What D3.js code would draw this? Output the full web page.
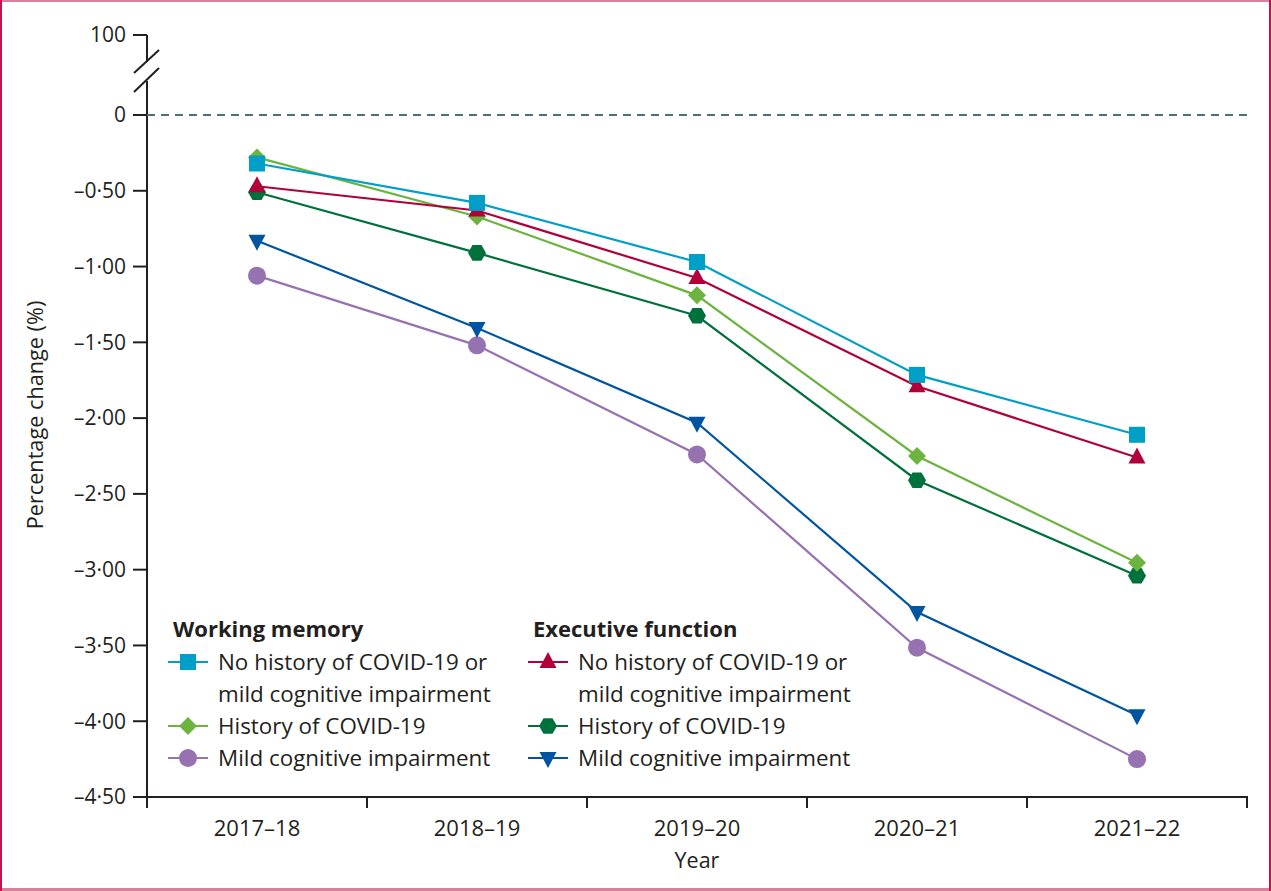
<!DOCTYPE html>
<html><head><meta charset="utf-8">
<script src="https://cdn.jsdelivr.net/npm/d3@7"></script>
<style>html,body{margin:0;padding:0;background:#fff}svg{display:block}</style>
</head><body>
<svg id="c" width="1271" height="891"></svg>
<script>
const years = ["2017–18","2018–19","2019–20","2020–21","2021–22"];
const yTicks = [0,-0.5,-1,-1.5,-2,-2.5,-3,-3.5,-4,-4.5];
const wmNoHistory = [-0.32,-0.58,-0.97,-1.715,-2.11];
const wmCovid = [-0.28,-0.67,-1.19,-2.25,-2.955];
const wmMCI = [-1.06,-1.52,-2.24,-3.515,-4.25];
const efNoHistory = [-0.47,-0.63,-1.075,-1.79,-2.26];
const efCovid = [-0.51,-0.91,-1.325,-2.41,-3.04];
const efMCI = [-0.83,-1.405,-2.03,-3.28,-3.96];

const series = [
  {name:"wmNo", values:wmNoHistory, color:"#009fc7", shape:"square"},
  {name:"wmCovid", values:wmCovid, color:"#6cb33f", shape:"diamond"},
  {name:"wmMCI", values:wmMCI, color:"#9672b1", shape:"circle"},
  {name:"efNo", values:efNoHistory, color:"#b2003b", shape:"triUp"},
  {name:"efCovid", values:efCovid, color:"#00703c", shape:"hex"},
  {name:"efMCI", values:efMCI, color:"#0055a2", shape:"triDown"}
];
const drawOrder = ["wmMCI","efMCI","efCovid","wmCovid","efNo","wmNo"];

const FONT = "'Open Sans', sans-serif";
const TXT = "#231f20";
const svg = d3.select("#c");
svg.append("rect").attr("x",0).attr("y",0).attr("width",1271).attr("height",891).attr("fill","#fff");
svg.append("line").attr("x1",0).attr("x2",1271).attr("y1",1).attr("y2",1).attr("stroke","#d9809a").attr("stroke-width",2);
svg.append("line").attr("x1",0).attr("x2",1271).attr("y1",889.5).attr("y2",889.5).attr("stroke","#d9809a").attr("stroke-width",3);
svg.append("line").attr("x1",1).attr("x2",1).attr("y1",0).attr("y2",891).attr("stroke","#c4124f").attr("stroke-width",2);
svg.append("line").attr("x1",1270).attr("x2",1270).attr("y1",0).attr("y2",891).attr("stroke","#c4124f").attr("stroke-width",2);

const x = d3.scalePoint().domain(years).range([147,1247]).padding(0.5);
const y = d3.scaleLinear().domain([0,-4.5]).range([115,797]);
const yTop = 35;

const fmt = v => v===0 ? "0" : ("–" + Math.abs(v).toFixed(2).replace(".","·"));

const g = svg.append("g");
const axisColor = "#231f20";
g.append("line").attr("x1",147).attr("x2",147).attr("y1",yTop).attr("y2",62).attr("stroke",axisColor).attr("stroke-width",2);
g.append("line").attr("x1",147).attr("x2",147).attr("y1",81).attr("y2",808).attr("stroke",axisColor).attr("stroke-width",2);
g.append("line").attr("x1",134).attr("y1",73).attr("x2",159).attr("y2",50).attr("stroke",axisColor).attr("stroke-width",2);
g.append("line").attr("x1",134).attr("y1",92).attr("x2",159).attr("y2",68).attr("stroke",axisColor).attr("stroke-width",2);
g.append("line").attr("x1",133).attr("x2",147).attr("y1",yTop).attr("y2",yTop).attr("stroke",axisColor).attr("stroke-width",2);
g.append("text").attr("x",126).attr("y",yTop).attr("dy","0.35em").attr("text-anchor","end")
  .attr("font-family",FONT).attr("font-size",21).attr("fill",TXT).text("100");

yTicks.forEach(t=>{
  g.append("line").attr("x1",133).attr("x2",147).attr("y1",y(t)).attr("y2",y(t)).attr("stroke",axisColor).attr("stroke-width",2);
  g.append("text").attr("x",126).attr("y",y(t)).attr("dy","0.35em").attr("text-anchor","end")
    .attr("font-family",FONT).attr("font-size",21).attr("fill",TXT).text(fmt(t));
});
g.append("line").attr("x1",147).attr("x2",1247).attr("y1",y(0)).attr("y2",y(0))
  .attr("stroke","#4f6e78").attr("stroke-width",2).attr("stroke-dasharray","8,6");

g.append("line").attr("x1",133).attr("x2",1248).attr("y1",y(-4.5)).attr("y2",y(-4.5)).attr("stroke",axisColor).attr("stroke-width",2);
const bw = x.step();
const edges = years.map(d=>x(d)-bw/2).concat([x(years[years.length-1])+bw/2]);
edges.forEach(e=>{
  g.append("line").attr("x1",e).attr("x2",e).attr("y1",y(-4.5)).attr("y2",808).attr("stroke",axisColor).attr("stroke-width",2);
});
years.forEach(d=>{
  g.append("text").attr("x",x(d)).attr("y",828).attr("dy","0.35em").attr("text-anchor","middle")
    .attr("font-family",FONT).attr("font-size",22).attr("fill",TXT).text(d);
});
g.append("text").attr("x",697).attr("y",860).attr("dy","0.35em").attr("text-anchor","middle")
  .attr("font-family",FONT).attr("font-size",21.5).attr("fill",TXT).text("Year");
g.append("text").attr("transform","translate(35,415) rotate(-90)").attr("dy","0.35em").attr("text-anchor","middle")
  .attr("font-family",FONT).attr("font-size",21.7).attr("fill",TXT).text("Percentage change (%)");

function marker(sel, shape, color, cx, cy){
  if(shape==="square"){
    sel.append("rect").attr("x",cx-8).attr("y",cy-8).attr("width",16).attr("height",16).attr("fill",color);
  } else if(shape==="circle"){
    sel.append("circle").attr("cx",cx).attr("cy",cy).attr("r",9).attr("fill",color);
  } else if(shape==="diamond"){
    sel.append("path").attr("d",`M${cx},${cy-9}L${cx+9},${cy}L${cx},${cy+9}L${cx-9},${cy}Z`).attr("fill",color);
  } else if(shape==="triUp"){
    sel.append("path").attr("d",`M${cx},${cy-10}L${cx+8.5},${cy+6}L${cx-8.5},${cy+6}Z`).attr("fill",color);
  } else if(shape==="triDown"){
    sel.append("path").attr("d",`M${cx},${cy+10}L${cx+8.5},${cy-6}L${cx-8.5},${cy-6}Z`).attr("fill",color);
  } else if(shape==="hex"){
    const r=9; const pts=d3.range(6).map(i=>{const a=Math.PI/3*i; return [cx+r*Math.cos(a), cy+r*Math.sin(a)];});
    sel.append("path").attr("d","M"+pts.map(p=>p.join(",")).join("L")+"Z").attr("fill",color);
  }
}

const line = d3.line().x((d,i)=>x(years[i])).y(d=>y(d));
const plot = svg.append("g");
drawOrder.forEach(n=>{
  const s = series.find(q=>q.name===n);
  plot.append("path").attr("d",line(s.values)).attr("fill","none").attr("stroke",s.color).attr("stroke-width",2.2);
});
drawOrder.forEach(n=>{
  const s = series.find(q=>q.name===n);
  s.values.forEach((v,i)=>marker(plot, s.shape, s.color, x(years[i]), y(v)));
});

const leg = svg.append("g").attr("font-family",FONT).attr("font-size",22.4).attr("fill",TXT);
const groups = [
  {title:"Working memory", x:173, items:[
    {s:"wmNo", lines:["No history of COVID-19 or","mild cognitive impairment"]},
    {s:"wmCovid", lines:["History of COVID-19"]},
    {s:"wmMCI", lines:["Mild cognitive impairment"]}]},
  {title:"Executive function", x:533, items:[
    {s:"efNo", lines:["No history of COVID-19 or","mild cognitive impairment"]},
    {s:"efCovid", lines:["History of COVID-19"]},
    {s:"efMCI", lines:["Mild cognitive impairment"]}]}
];
groups.forEach(gr=>{
  leg.append("text").attr("x",gr.x).attr("y",629).attr("dy","0.35em").attr("font-size",22).attr("font-weight","bold").text(gr.title);
  let yy = 662;
  gr.items.forEach(it=>{
    const s = series.find(q=>q.name===it.s);
    const lx = gr.x-5;
    leg.append("line").attr("x1",lx).attr("x2",lx+40).attr("y1",yy).attr("y2",yy).attr("stroke",s.color).attr("stroke-width",2.2);
    marker(leg, s.shape, s.color, lx+20, yy);
    it.lines.forEach((t,k)=>{
      leg.append("text").attr("x",gr.x+45).attr("y",yy+k*32).attr("dy","0.35em").text(t);
    });
    yy += it.lines.length*32;
  });
});
</script>
</body></html>
